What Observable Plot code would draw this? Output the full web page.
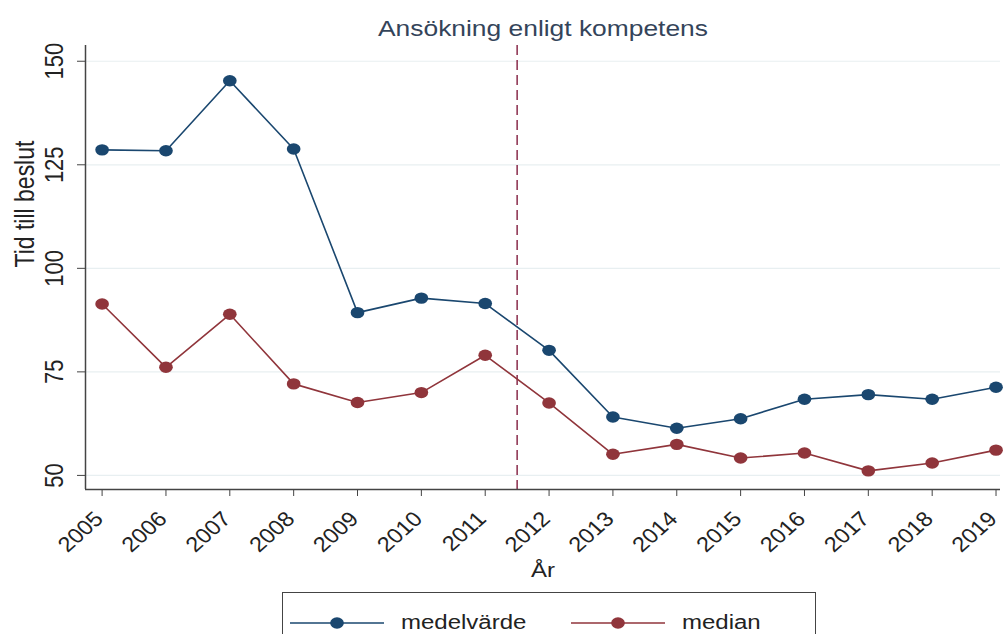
<!DOCTYPE html>
<html><head><meta charset="utf-8">
<script src="https://cdn.jsdelivr.net/npm/d3@7"></script>
<script src="https://cdn.jsdelivr.net/npm/@observablehq/plot@0.6"></script>
<style>
body{margin:0;background:#fff;font-family:"Liberation Sans",Arial,sans-serif;}
#chart svg{display:block;}
#legend{position:relative;margin-left:282px;margin-top:2px;width:534px;height:60px;border:1.5px solid #444;box-sizing:border-box;display:flex;align-items:flex-start;padding-top:18px;padding-left:7px;font-size:20px;color:#222;}
.item{display:flex;align-items:center;width:281px;flex:none;}
.item span{margin-left:17px;display:inline-block;transform:scaleX(1.2);transform-origin:left center;}
</style></head><body>
<div id="chart"></div>
<div id="legend"></div>
<script>
const years = [2005,2006,2007,2008,2009,2010,2011,2012,2013,2014,2015,2016,2017,2018,2019];
const medelvarde = [128.6,128.4,145.3,128.8,89.3,92.8,91.5,80.2,64.1,61.4,63.7,68.4,69.5,68.4,71.3];
const median = [91.4,76.1,88.9,72.1,67.6,70.0,79.0,67.5,55.1,57.5,54.2,55.4,51.1,53.0,56.1];
const yTicks = [50,75,100,125,150];
const reformYear = 2011.5;
const title = "Ansökning enligt kompetens";
const xLabel = "År";
const yLabel = "Tid till beslut";
const seriesNames = ["medelvärde","median"];
const colors = ["#1a476f","#90353b"];
const xDomain = [2004.74, 2019.07];
const yDomain = [46.6, 153.8];
const stretch = 1.2; // the reference is horizontally stretched
const tickLabelStretch = 1.12;

const data = years.flatMap((yr,i)=>[
  {year:yr, value:medelvarde[i], series:seriesNames[0]},
  {year:yr, value:median[i], series:seriesNames[1]}
]);

const chart = Plot.plot({
  width:1003, height:590,
  marginLeft:85, marginRight:3, marginTop:45, marginBottom:101,
  style:{fontFamily:'"Liberation Sans", Arial, sans-serif', fontSize:"18px", color:"#222", background:"white"},
  x:{domain:xDomain},
  y:{domain:yDomain},
  color:{domain:seriesNames, range:colors},
  marks:[
    Plot.gridY(yTicks,{stroke:"#e8eff1", strokeOpacity:1, strokeWidth:1.2}),
    Plot.ruleX([reformYear],{stroke:"#8a2c4c", strokeWidth:1.5, strokeDasharray:"10,5"}),
    Plot.line(data,{x:"year",y:"value",z:"series",stroke:"series",strokeWidth:1.6}),
    Plot.dot(data,{x:"year",y:"value",fill:"series",r:5.7}),
    Plot.axisY(yTicks,{tickSize:8, tickFormat:()=>"", label:null, stroke:"#444"}),
    Plot.text(yTicks,{y:d=>d, text:d=>String(d), frameAnchor:"left", dx:-23, rotate:-90, textAnchor:"middle", lineAnchor:"bottom", fontSize:22, fill:"#222"}),
    Plot.axisX(years,{tickSize:7, tickRotate:-45, tickPadding:19, label:null, fontSize:21, tickFormat:d=>String(d), stroke:"#444", fill:"#222"}),
    Plot.ruleX([xDomain[0]],{stroke:"#444", strokeWidth:1.5}),
    Plot.ruleY([yDomain[0]],{stroke:"#444", strokeWidth:1.5}),
    Plot.text([title],{frameAnchor:"top", dy:-10, lineAnchor:"bottom", fontSize:22, fill:"#34445a"}),
    Plot.text([xLabel],{frameAnchor:"bottom", dy:87, lineAnchor:"bottom", fontSize:20, fill:"#222"}),
    Plot.text([yLabel],{frameAnchor:"left", dx:-52, rotate:-90, lineAnchor:"bottom", fontSize:23, fill:"#222"})
  ]
});

// emulate the horizontal stretch of the reference image on texts and dots
chart.querySelectorAll("text").forEach(t=>{
  const g = t.closest("g[aria-label]");
  const isTick = g && g.getAttribute("aria-label") === "x-axis tick label";
  const s = isTick ? tickLabelStretch : stretch;
  const pre = isTick ? "translate(-3,0) " : "";
  const tr = t.getAttribute("transform");
  if (tr && tr.startsWith("translate")) {
    const idx = tr.indexOf(")")+1;
    t.setAttribute("transform", pre+tr.slice(0,idx)+` scale(${s},1)`+tr.slice(idx));
  } else {
    const x = +(t.getAttribute("x")||0), y = +(t.getAttribute("y")||0);
    t.removeAttribute("x"); t.removeAttribute("y");
    t.setAttribute("transform", pre+`translate(${x},${y}) scale(${s},1)`+(tr?" "+tr:""));
  }
});
chart.querySelectorAll("circle").forEach(c=>{
  const cx = +c.getAttribute("cx"), cy = +c.getAttribute("cy");
  c.setAttribute("transform", `translate(${cx},${cy}) scale(${stretch},1) translate(${-cx},${-cy})`);
});
document.getElementById("chart").append(chart);

const legend = document.getElementById("legend");
seriesNames.forEach((name,i)=>{
  const item = document.createElement("div");
  item.className = "item";
  item.innerHTML = `<svg width="94" height="20"><line x1="0" x2="94" y1="10" y2="10" stroke="${colors[i]}" stroke-width="1.6"/><ellipse cx="47" cy="10" rx="${5.7*stretch}" ry="5.7" fill="${colors[i]}"/></svg><span>${name}</span>`;
  legend.append(item);
});
</script>
</body></html>
